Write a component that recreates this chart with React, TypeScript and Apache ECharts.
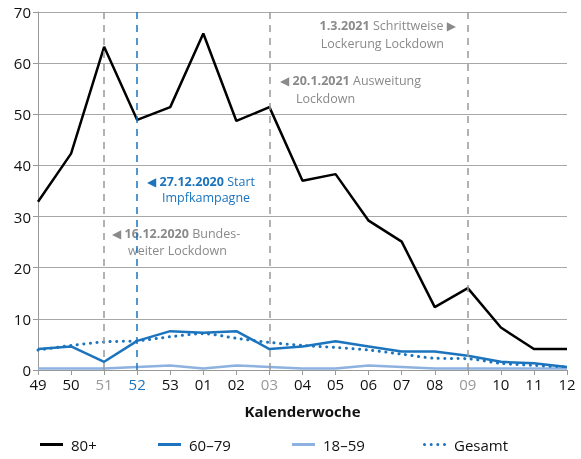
import React, { useEffect, useRef } from "react";
import * as echarts from "echarts";

const weeks = ["49", "50", "51", "52", "53", "01", "02", "03", "04", "05", "06", "07", "08", "09", "10", "11", "12"];
const v80 = [32.9, 42.3, 63.2, 48.9, 51.4, 65.8, 48.7, 51.4, 37.0, 38.3, 29.2, 25.1, 12.3, 16.0, 8.3, 4.1, 4.1];
const v6079 = [4.1, 4.6, 1.6, 5.7, 7.6, 7.3, 7.6, 4.1, 4.6, 5.6, 4.6, 3.6, 3.6, 2.8, 1.6, 1.3, 0.6];
const v1859 = [0.3, 0.3, 0.3, 0.6, 0.9, 0.3, 0.9, 0.6, 0.3, 0.3, 0.9, 0.6, 0.3, 0.3, 0.3, 0.3, 0.3];
const vGesamt = [3.9, 4.8, 5.5, 5.7, 6.5, 7.1, 6.2, 5.4, 4.8, 4.4, 3.9, 3.1, 2.3, 2.2, 1.3, 0.9, 0.6];
const legendNames = ["80+", "60–79", "18–59", "Gesamt"];
const legendLefts = [40, 158, 292, 423];
const greyWeeks = ["51", "03", "09"];
const blueWeeks = ["52"];

const FONT = "'Open Sans', 'Noto Sans', sans-serif";
const BLUE = "#1b74bd";
const LIGHT = "#8db2e0";
const GREY = "#999999";
const ANN = "#8a8a8a";

const DOTS_ICON =
  "path://" +
  [1.5, 8.2, 14.8, 21.5]
    .map((c) => `M${c - 1.5},1.5a1.5,1.5 0 1,0 3,0a1.5,1.5 0 1,0 -3,0z`)
    .join("");

export default function App() {
  const ref = useRef<HTMLDivElement>(null);
  useEffect(() => {
    if (!ref.current) return;
    const chart = echarts.init(ref.current, undefined, { renderer: "svg" });
    const annRich = (color: string) => ({
      tri: { fontSize: 12, fill: color, color, fontFamily: "DejaVu Sans" },
      b: { fontWeight: "bold", fontSize: 12.5, fill: color, color, fontFamily: FONT },
      n: { fontSize: 12.5, fill: color, color, fontFamily: FONT },
    });
    chart.setOption({
      animation: false,
      textStyle: { fontFamily: FONT },
      grid: { left: 38, right: 14, top: 12, bottom: 89 },
      xAxis: {
        type: "category",
        data: weeks,
        boundaryGap: false,
        name: "Kalenderwoche",
        nameLocation: "middle",
        nameGap: 33,
        nameTextStyle: { fontSize: 15, fontWeight: "bold", color: "#111", fontFamily: FONT },
        axisLine: { lineStyle: { color: GREY, width: 1 } },
        axisTick: { show: true, length: 5, lineStyle: { color: GREY } },
        axisLabel: {
          fontSize: 15,
          margin: 6,
          fontFamily: FONT,
          color: (val: string) =>
            greyWeeks.includes(val) ? GREY : blueWeeks.includes(val) ? BLUE : "#111",
        },
        splitLine: { show: false },
      },
      yAxis: {
        type: "value",
        min: 0,
        max: 70,
        interval: 10,
        axisLine: { show: true, lineStyle: { color: GREY } },
        axisTick: { show: true, length: 5, lineStyle: { color: GREY } },
        axisLabel: { fontSize: 15, color: "#111", margin: 7, fontFamily: FONT },
        splitLine: { lineStyle: { color: "#a8a8a8", width: 1 } },
      },
      legend: legendNames.map((name, i) => ({
        top: 437,
        left: legendLefts[i],
        padding: 0,
        itemWidth: 23,
        itemHeight: 3,
        data: [{ name, icon: name === "Gesamt" ? DOTS_ICON : "rect" }],
        textStyle: { fontSize: 15, color: "#111", fontFamily: FONT, padding: [0, 0, 0, 3] },
      })),
      series: [
        {
          name: "18–59",
          type: "line",
          data: v1859,
          symbol: "none",
          lineStyle: { color: LIGHT, width: 2.5 },
          itemStyle: { color: LIGHT },
        },
        {
          name: "Gesamt",
          type: "line",
          data: vGesamt,
          symbol: "none",
          smooth: 0.3,
          lineStyle: { color: BLUE, width: 3, type: [0.1, 6.5], cap: "round" },
          itemStyle: { color: BLUE },
          markLine: {
            silent: true,
            symbol: "none",
            label: { show: false },
            data: [
              { xAxis: "51", lineStyle: { color: GREY, type: [7, 6], width: 1.5 } },
              { xAxis: "52", lineStyle: { color: BLUE, type: [7, 6], width: 1.5 } },
              { xAxis: "03", lineStyle: { color: GREY, type: [7, 6], width: 1.5 } },
              { xAxis: "09", lineStyle: { color: GREY, type: [7, 6], width: 1.5 } },
            ],
          },
        },
        {
          name: "60–79",
          type: "line",
          data: v6079,
          symbol: "none",
          lineStyle: { color: BLUE, width: 2.5 },
          itemStyle: { color: BLUE },
        },
        {
          name: "80+",
          type: "line",
          data: v80,
          symbol: "none",
          lineStyle: { color: "#000", width: 2.5 },
          itemStyle: { color: "#000" },
        },
      ],
      graphic: [
        {
          type: "text",
          left: 147,
          top: 175,
          style: {
            text: "{tri|◀} {b|27.12.2020} {n|Start}",
            rich: annRich(BLUE),
          },
        },
        {
          type: "text",
          left: 162,
          top: 191,
          style: { text: "Impfkampagne", fill: BLUE, fontSize: 12.5, fontFamily: FONT },
        },
        {
          type: "text",
          left: 112,
          top: 227,
          style: {
            text: "{tri|◀} {b|16.12.2020} {n|Bundes-}",
            rich: annRich(ANN),
          },
        },
        {
          type: "text",
          left: 128,
          top: 244,
          style: { text: "weiter Lockdown", fill: ANN, fontSize: 12.5, fontFamily: FONT },
        },
        {
          type: "text",
          left: 280,
          top: 74,
          style: {
            text: "{tri|◀} {b|20.1.2021} {n|Ausweitung}",
            rich: annRich(ANN),
          },
        },
        {
          type: "text",
          left: 296,
          top: 92,
          style: { text: "Lockdown", fill: ANN, fontSize: 12.5, fontFamily: FONT },
        },
        {
          type: "text",
          right: 125,
          top: 19,
          style: {
            text: "{b|1.3.2021} {n|Schrittweise} {tri|▶}",
            rich: annRich(ANN),
          },
        },
        {
          type: "text",
          right: 137,
          top: 37,
          style: { text: "Lockerung Lockdown", fill: ANN, fontSize: 12.5, fontFamily: FONT },
        },
      ],
    });
    return () => chart.dispose();
  }, []);
  return (
    <div
      ref={ref}
      style={{ position: "fixed", left: 0, top: 0, width: 581, height: 459 }}
    />
  );
}
